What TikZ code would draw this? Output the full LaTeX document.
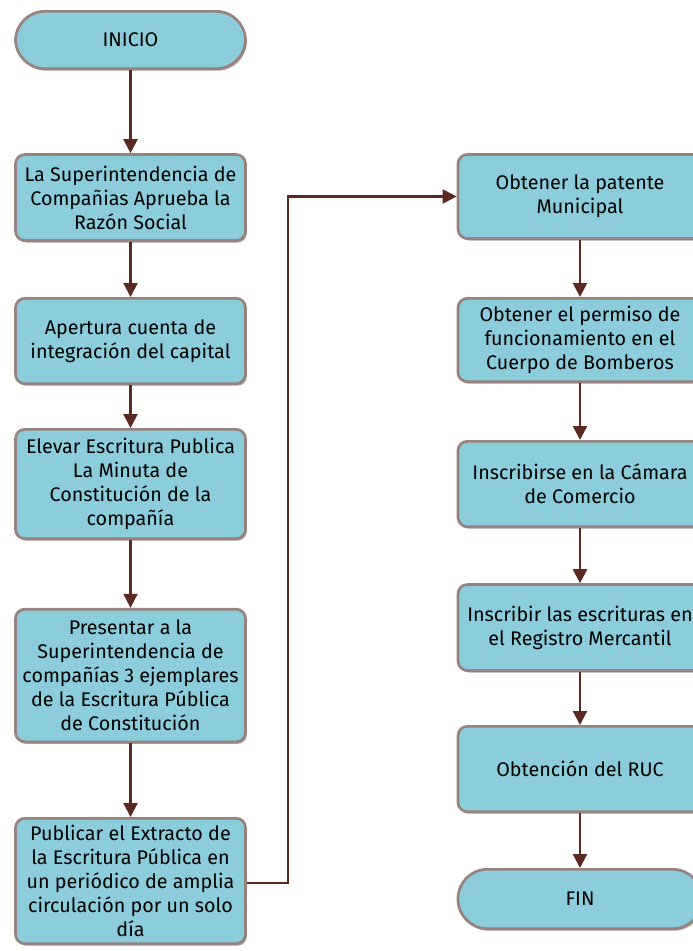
\documentclass[tikz,border=0pt]{standalone}
\usepackage{fontspec}
\setmainfont{Fira Sans}
\usetikzlibrary{arrows.meta,shadows}
\definecolor{boxfill}{RGB}{140,205,220}
\definecolor{boxline}{RGB}{150,130,126}
\definecolor{arrowcol}{RGB}{90,42,34}
\definecolor{shadowcol}{RGB}{120,100,98}
\tikzset{
  stepbox/.style={draw=boxline, line width=2pt, fill=boxfill, rounded corners=7pt,
    align=center, inner sep=2pt, font=\fontsize{14.8}{18}\selectfont,
    drop shadow={shadow xshift=1pt, shadow yshift=-1.5pt, fill=shadowcol, opacity=0.6}},
  leftbox/.style={stepbox, minimum width=172.5pt},
  rightbox/.style={stepbox, minimum width=183pt},
  termbox/.style={stepbox, rounded corners=22pt},
  flow/.style={draw=arrowcol, line width=1.6pt, -{Triangle[width=10.5pt,length=10.5pt]}},
}
\begin{document}
\begin{tikzpicture}[x=0.75pt,y=-0.75pt]
\useasboundingbox (0,0) rectangle (693,951);
% left column
\node[termbox, minimum width=172.5pt, minimum height=43pt] (inicio) at (130.5,40) {INICIO};
\node[leftbox, minimum height=64.5pt] (b1) at (130.5,197.5) {La Superintendencia de\\Compañias Aprueba la\\Razón Social};
\node[leftbox, minimum height=64pt] (b2) at (130.5,341) {Apertura cuenta de\\integración del capital};
\node[leftbox, minimum height=82pt] (b3) at (130.5,484) {Elevar Escritura Publica\\La Minuta de\\Constitución de la\\compañía};
\node[leftbox, minimum height=99.5pt] (b4) at (130.5,675.5) {Presentar a la\\Superintendencia de\\compañías 3 ejemplares\\de la Escritura Pública\\de Constitución};
\node[leftbox, minimum height=94pt] (b5) at (130.5,881) {Publicar el Extracto de\\la Escritura Pública en\\un periódico de amplia\\circulación por un solo\\día};
% right column
\node[rightbox, minimum height=63pt] (r1) at (580,196.5) {Obtener la patente\\Municipal};
\node[rightbox, minimum height=62.5pt] (r2) at (580,340) {Obtener el permiso de\\funcionamiento en el\\Cuerpo de Bomberos};
\node[rightbox, minimum height=64pt] (r3) at (580,484) {Inscribirse en la Cámara\\de Comercio};
\node[rightbox, minimum height=64.5pt] (r4) at (580,627.5) {Inscribir las escrituras en\\el Registro Mercantil};
\node[rightbox, minimum height=64pt] (r5) at (580,769) {Obtención del RUC};
\node[termbox, minimum width=183pt, minimum height=44.5pt] (fin) at (580,899) {FIN};
\coordinate (turn) at (288,883);
% connectors
\draw[flow] (inicio) -- (b1);
\draw[flow] (b1) -- (b2);
\draw[flow] (b2) -- (b3);
\draw[flow] (b3) -- (b4);
\draw[flow] (b4) -- (b5);
\draw[flow] (b5.east |- turn) -- (turn) |- (r1.west);
\draw[flow] (r1) -- (r2);
\draw[flow] (r2) -- (r3);
\draw[flow] (r3) -- (r4);
\draw[flow] (r4) -- (r5);
\draw[flow] (r5) -- (fin);
\end{tikzpicture}
\end{document}
